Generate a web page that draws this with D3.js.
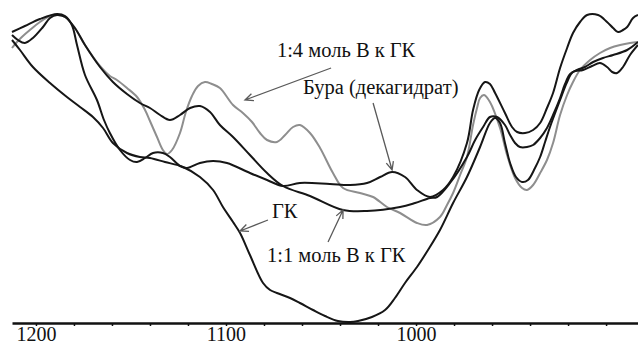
<!DOCTYPE html>
<html>
<head>
<meta charset="utf-8">
<script src="https://cdn.jsdelivr.net/npm/d3@7"></script>
<style>
  html, body { margin: 0; padding: 0; background: #fff; }
  svg { display: block; }
  text { font-family: "Liberation Serif", "Times New Roman", serif; }
</style>
</head>
<body>
<svg id="chart" width="638" height="345"></svg>
<script>
// Wavenumber (cm-1) and relative transmittance (arbitrary units)
const seriesNames = ["1:4 моль В к ГК", "Бура (декагидрат)", "ГК", "1:1 моль В к ГК"];

const wn14 = [1212.6,1210.0,1207.4,1203.2,1197.9,1192.6,1188.9,1184.7,1179.5,1174.2,1166.3,1161.1,1157.4,1152.1,1146.8,1142.6,1140.0,1136.3,1133.2,1131.1,1128.4,1124.2,1121.1,1117.9,1114.7,1111.1,1107.4,1103.2,1096.3,1091.1,1086.3,1082.1,1078.4,1073.2,1068.9,1064.7,1061.1,1055.8,1050.5,1043.7,1038.4,1029.5,1022.6,1015.3,1008.4,999.5,994.2,987.4,983.7,980.5,976.8,973.2,970.0,967.9,966.3,964.2,961.1,955.8,952.1,947.9,944.2,941.6,938.4,934.7,931.1,927.9,924.2,920.5,917.4,913.7,908.4,903.2,897.9,892.6,887.4,883.2];
const t14 = [55.0,56.2,57.2,58.6,60.2,61.4,61.6,61.2,59.0,55.6,51.4,49.4,48.6,47.0,45.2,42.6,40.4,37.2,34.6,33.8,34.6,38.0,42.2,45.4,47.4,48.2,47.8,47.0,43.6,42.0,40.2,38.0,36.6,36.2,37.6,39.2,39.6,38.0,35.0,30.0,27.0,26.0,25.2,23.2,22.0,20.0,19.6,21.2,23.6,26.0,29.6,33.2,39.6,43.0,45.0,45.6,44.2,39.0,33.6,29.0,27.0,26.6,27.6,30.0,32.6,36.0,41.6,45.6,48.2,50.6,52.6,54.0,55.0,55.6,56.0,56.2];

const wnBora = [1212.6,1205.8,1197.9,1188.9,1184.7,1181.1,1178.4,1174.2,1167.9,1164.2,1161.1,1155.8,1150.5,1146.8,1142.6,1138.4,1133.2,1129.5,1124.2,1120.5,1113.7,1106.8,1099.5,1087.4,1078.4,1070.0,1061.1,1045.3,1034.7,1025.8,1018.9,1012.6,1005.8,999.5,992.6,985.8,980.5,973.2,970.0,966.8,963.7,961.1,958.4,953.2,949.5,946.8,942.6,938.4,934.7,931.1,927.9,924.2,920.5,917.4,913.7,910.0,904.2,899.5,896.3,893.7,891.1,888.9,885.8,883.2];
const tBora = [58.2,59.4,60.8,61.8,61.4,59.6,55.6,49.6,44.6,40.6,38.0,34.6,32.6,32.2,33.0,34.0,34.0,33.2,31.4,31.0,32.0,32.4,32.0,30.0,28.6,27.4,28.0,27.8,27.6,28.0,29.2,30.2,29.2,26.6,25.2,26.6,29.2,36.0,42.6,46.6,48.2,47.8,46.0,42.0,39.2,38.2,38.0,38.6,40.0,43.0,46.0,51.0,55.0,58.0,60.2,61.6,61.6,60.2,59.0,58.2,58.6,59.2,61.0,61.6];

const wnGK = [1212.6,1208.4,1201.6,1192.6,1183.7,1176.8,1170.0,1164.7,1159.5,1152.1,1145.3,1140.0,1132.1,1122.6,1113.7,1106.8,1101.6,1096.3,1092.6,1087.4,1080.5,1076.8,1073.2,1066.3,1061.1,1054.2,1047.9,1041.1,1034.7,1030.5,1023.2,1016.3,1011.1,1005.8,999.5,993.7,987.4,980.5,973.2,966.3,961.1,958.4,955.8,953.2,950.5,947.4,944.2,941.1,937.4,934.7,932.1,929.5,924.2,920.5,917.4,912.1,907.4,903.2,899.5,896.8,894.2,891.1,887.4,883.2];
const tGK = [56.6,54.6,51.2,48.0,45.2,43.2,41.2,39.0,36.0,34.0,33.2,33.0,32.2,31.2,29.2,26.6,23.2,20.2,18.0,13.6,8.0,6.6,6.0,5.0,4.0,2.6,1.4,0.4,0.2,0.4,1.2,2.6,5.0,8.0,11.2,14.6,18.6,24.0,29.2,35.2,40.0,41.0,40.0,36.0,32.0,29.2,28.2,28.6,31.0,33.2,36.2,39.2,44.6,48.2,50.2,50.6,51.4,52.0,51.2,50.2,50.0,51.2,53.6,55.6];

const wn11 = [1212.6,1209.5,1205.8,1201.6,1196.3,1192.6,1188.9,1184.7,1179.5,1174.2,1166.3,1159.5,1152.1,1145.3,1140.0,1134.7,1129.5,1124.2,1118.9,1113.7,1108.4,1103.2,1096.3,1087.4,1078.4,1070.0,1055.8,1038.4,1025.8,1008.4,1000.5,992.6,988.9,982.1,973.2,968.9,964.7,961.1,957.4,953.2,950.5,947.9,945.3,941.6,938.4,934.7,931.1,927.9,924.2,921.6,918.9,915.3,911.1,906.8,901.6,896.3,888.9,883.2];
const t11 = [57.6,56.6,56.0,57.0,59.2,61.0,61.6,61.2,59.0,55.6,51.2,48.2,45.8,44.0,43.0,41.6,40.6,41.6,43.0,43.4,42.2,39.6,37.2,33.6,30.0,27.4,25.4,22.6,22.4,23.2,24.0,25.0,25.2,28.0,33.2,36.6,39.2,41.2,41.2,39.6,37.6,36.0,35.2,35.2,35.6,37.0,39.0,41.6,45.0,47.8,49.8,50.6,51.2,52.2,53.0,53.6,54.6,56.2];

const xTicks = [1200,1180,1160,1140,1120,1100,1080,1060,1040,1020,1000,980,960,940,920,900];
const xTickLabels = [1200, 1100, 1000];

// annotation: label position and arrow (tail -> tip) in data units
const labelText = ["1:4 моль В к ГК", "Бура (декагидрат)", "ГК", "1:1 моль В к ГК"];
const labelWn = [1073.2, 1059.5, 1075.8, 1078.4];
const labelT  = [53.2, 45.8, 21.0, 12.2];
const arrowTailWn = [1044.7, 1022.6, 1077.9, 1046.3];
const arrowTailT  = [51.0, 44.0, 20.6, 16.2];
const arrowTipWn  = [1090.0, 1012.6, 1092.6, 1038.4];
const arrowTipT   = [44.6, 30.6, 18.4, 22.6];

const svg = d3.select("#chart");
const x = d3.scaleLinear().domain([1212.6, 883.2]).range([12, 638]);
const y = d3.scaleLinear().domain([0, 62]).range([323, 13]);

const line = d3.line()
  .x(d => x(d[0])).y(d => y(d[1]))
  .curve(d3.curveCatmullRom.alpha(0.5));

const series = [
  {wn: wn14, t: t14, color: "#8e8e8e"},
  {wn: wnBora, t: tBora, color: "#161616"},
  {wn: wnGK, t: tGK, color: "#161616"},
  {wn: wn11, t: t11, color: "#161616"}
];

series.forEach(s => {
  svg.append("path")
    .datum(s.wn.map((w, i) => [w, s.t[i]]))
    .attr("fill", "none")
    .attr("stroke", s.color)
    .attr("stroke-width", 2)
    .attr("stroke-linejoin", "round")
    .attr("d", line);
});

// axis
const axis = d3.axisBottom(x)
  .tickValues(xTicks)
  .tickSize(3)
  .tickSizeOuter(0)
  .tickFormat(d => xTickLabels.includes(d) ? String(d) : "");
const gAxis = svg.append("g").attr("transform", "translate(0,323)").call(axis);
gAxis.attr("font-family", "'Liberation Serif', 'Times New Roman', serif");
gAxis.select(".domain").attr("stroke", "#111").attr("stroke-width", 2.5);
gAxis.selectAll(".tick line").attr("stroke", "#111").attr("stroke-width", 1.5);
gAxis.selectAll(".tick text")
  .attr("font-family", "'Liberation Serif', 'Times New Roman', serif")
  .attr("font-size", 20)
  .attr("fill", "#111")
  .attr("y", 17.5).attr("dy", 0);

// annotations
labelText.forEach((txt, i) => {
  svg.append("text")
    .attr("x", x(labelWn[i])).attr("y", y(labelT[i]))
    .attr("font-size", 20.5).attr("fill", "#111")
    .text(txt);
  const x1 = x(arrowTailWn[i]), y1 = y(arrowTailT[i]);
  const x2 = x(arrowTipWn[i]), y2 = y(arrowTipT[i]);
  const ang = Math.atan2(y2 - y1, x2 - x1);
  const L = 9, a = 0.42;
  const p = d3.path();
  p.moveTo(x1, y1); p.lineTo(x2, y2);
  p.moveTo(x2 - L * Math.cos(ang - a), y2 - L * Math.sin(ang - a));
  p.lineTo(x2, y2);
  p.lineTo(x2 - L * Math.cos(ang + a), y2 - L * Math.sin(ang + a));
  svg.append("path").attr("d", p.toString())
    .attr("fill", "none").attr("stroke", "#5a5a5a").attr("stroke-width", 1.3);
});
</script>
</body>
</html>
